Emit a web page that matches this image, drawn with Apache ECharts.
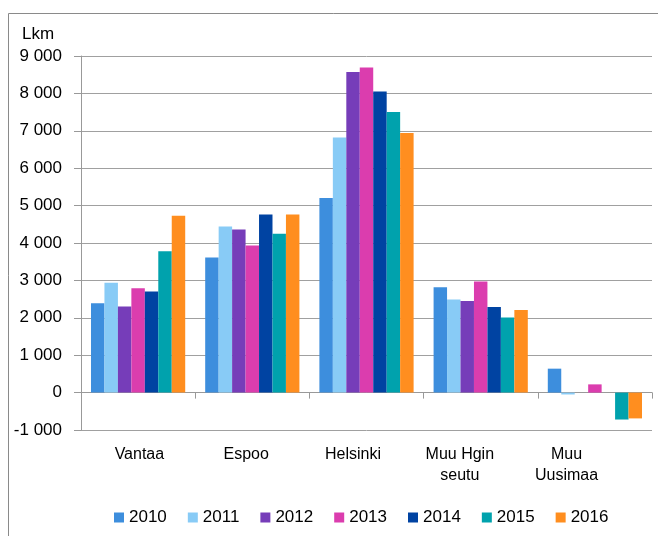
<!DOCTYPE html>
<html>
<head>
<meta charset="utf-8">
<script src="https://cdn.jsdelivr.net/npm/echarts@6/dist/echarts.min.js"></script>
<style>html,body{margin:0;padding:0;background:#fff;}#c{width:658px;height:536px;}</style>
</head>
<body>
<div id="c"></div>
<script>
var categories = ['Vantaa', 'Espoo', 'Helsinki', 'Muu Hgin\nseutu', 'Muu\nUusimaa'];
var years = ['2010', '2011', '2012', '2013', '2014', '2015', '2016'];
var colors = ['#3D8EDD', '#88CBF6', '#763DB9', '#DB3DAE', '#0043A2', '#00A2AD', '#FF8E1F'];
var v2010 = [2390, 3610, 5200, 2820, 640];
var v2011 = [2940, 4440, 6820, 2490, -50];
var v2012 = [2300, 4360, 8570, 2450, 0];
var v2013 = [2790, 3930, 8690, 2970, 220];
var v2014 = [2700, 4760, 8050, 2290, 0];
var v2015 = [3780, 4250, 7500, 2010, -720];
var v2016 = [4730, 4760, 6940, 2210, -690];
var yTicks = { min: -1000, max: 9000, interval: 1000 };
var values = [v2010, v2011, v2012, v2013, v2014, v2015, v2016];

var font = 'Liberation Sans';
var chart = echarts.init(document.getElementById('c'), null, { renderer: 'canvas' });

var series = years.map(function (y, i) {
  return {
    name: y,
    type: 'bar',
    xAxisIndex: 0,
    yAxisIndex: 0,
    data: values[i],
    barGap: '0%',
    barCategoryGap: '17.5%',
    itemStyle: { color: colors[i] },
    emphasis: { disabled: true }
  };
});

chart.setOption({
  animation: false,
  color: colors,
  title: {
    text: 'Lkm',
    left: 17,
    top: 19,
    textStyle: { fontFamily: font, fontSize: 17, fontWeight: 'normal', color: '#000', lineHeight: 20 }
  },
  graphic: [{
    type: 'rect',
    shape: { x: 8.5, y: 13.5, width: 800, height: 800 },
    style: { fill: 'none', stroke: '#8a8a8a', lineWidth: 1 },
    silent: true
  }],
  legend: {
    data: years,
    left: 114,
    top: 509,
    padding: 0,
    itemWidth: 10,
    itemHeight: 10,
    itemGap: 21,
    icon: 'rect',
    textStyle: { fontFamily: font, fontSize: 17, color: '#000' }
  },
  grid: [
    { left: 81, right: 6, top: 56, bottom: 106, containLabel: false },
    { left: 86, width: 534, top: 56, bottom: 106, containLabel: false }
  ],
  xAxis: [
    {
      type: 'category',
      gridIndex: 0,
      data: categories,
      axisLine: { onZero: true, lineStyle: { color: '#999', width: 1 } },
      axisTick: { show: true, length: 6, lineStyle: { color: '#999' } },
      axisLabel: { show: false },
      splitLine: { show: false }
    },
    {
      type: 'category',
      gridIndex: 1,
      data: categories,
      position: 'bottom',
      axisLine: { show: false },
      axisTick: { show: false },
      axisLabel: { show: true, margin: 14, fontFamily: font, fontSize: 16, color: '#000', lineHeight: 21, interval: 0 },
      splitLine: { show: false }
    }
  ],
  yAxis: [
    {
      type: 'value',
      gridIndex: 0,
      min: yTicks.min,
      max: yTicks.max,
      interval: yTicks.interval,
      axisLine: { show: true, lineStyle: { color: '#999', width: 1 } },
      axisTick: { show: true, length: 7, lineStyle: { color: '#999' } },
      splitLine: { show: true, lineStyle: { color: '#a0a0a0', width: 1 } },
      axisLabel: {
        margin: 19,
        fontFamily: font,
        fontSize: 17,
        color: '#000',
        formatter: function (v) {
          var s = Math.abs(v).toString().replace(/\B(?=(\d{3})+(?!\d))/g, ' ');
          return (v < 0 ? '-' : '') + s;
        }
      }
    },
    {
      type: 'value',
      gridIndex: 1,
      min: 0,
      max: 1,
      show: false
    }
  ],
  series: series
});
</script>
</body>
</html>
